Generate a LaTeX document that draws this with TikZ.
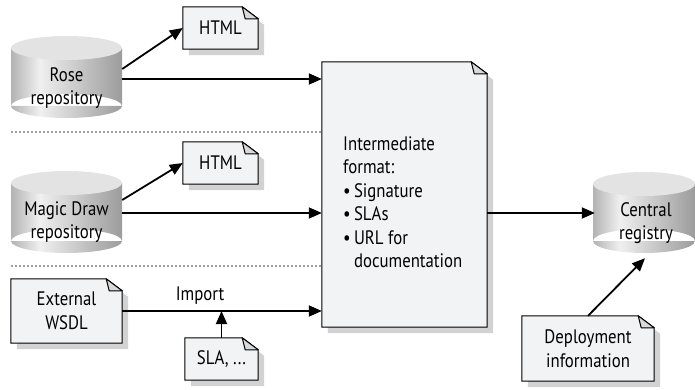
\documentclass[tikz,border=0pt]{standalone}
\usepackage{fontspec}
\setmainfont{PT Sans}[FakeStretch=0.86]
\usepackage{tikz}
\usetikzlibrary{arrows.meta, positioning, calc, backgrounds}

\definecolor{paper}{HTML}{F1F3F5}
\pgfdeclarehorizontalshading{drum}{100bp}{color(0bp)=(gray!60); color(25bp)=(gray!60); color(38bp)=(gray!12); color(75bp)=(gray!78); color(100bp)=(gray!78)}

% cylinder: left x, right x, top y, bottom y
\newcommand{\drum}[4]{%
  \pgfmathsetmacro\dcx{(#1+#2)/2}
  \pgfmathsetmacro\drx{(#2-#1)/2}
  \shade[shading=drum] (#1,#3+12) rectangle (#2,#4-12) (\dcx,#4-12) ellipse[x radius=\drx, y radius=12];
  \fill[gray!22] (\dcx,#3+12) ellipse[x radius=\drx, y radius=12];
}

% sheet of paper with folded corner and shadow, drawn round a node
\newcommand{\paper}[1]{%
  \fill[gray!35] ([shift={(6pt,-6pt)}]#1.south west) -- ([shift={(6pt,-6pt)}]#1.north west)
    -- ([shift={(-10pt,-6pt)}]#1.north east) -- ([shift={(6pt,-18pt)}]#1.north east)
    -- ([shift={(6pt,-6pt)}]#1.south east) -- cycle;
  \filldraw[fill=paper, line width=1pt] (#1.south west) -- (#1.north west)
    -- ([xshift=-16pt]#1.north east) -- ([yshift=-12pt]#1.north east) -- (#1.south east) -- cycle;
  \filldraw[fill=gray!30, line width=1pt, line join=round] ([xshift=-16pt]#1.north east)
    -- ([xshift=-13pt,yshift=-12pt]#1.north east) -- ([yshift=-12pt]#1.north east) -- cycle;
}

\tikzset{
  txt/.style={align=center, inner sep=0pt, font=\fontsize{19.5}{23.5}\selectfont},
  arr/.style={line width=1.8pt, -{Triangle[length=13pt,width=11pt]}},
  sep/.style={gray!75, line width=2pt, dash pattern=on 2pt off 2pt},
}

\begin{document}
\begin{tikzpicture}[x=1pt, y=-1pt]
    \useasboundingbox (0,0) rectangle (695,390);

    % Repositories
    \drum{11}{122}{36}{118}
    \drum{11}{122}{171}{253}
    \drum{593}{695}{172}{253}
    \node[txt, minimum width=111, minimum height=60] (rose) at (66.5,88) {Rose\\repository};
    \node[txt, minimum width=111, minimum height=62] (magic) at (66.5,222) {Magic Draw\\repository};
    \node[txt, minimum width=102, minimum height=60] (central) at (646,223) {Central\\registry};

    % Documents
    \node[txt, minimum width=75, minimum height=42] (html1) at (220.5,28) {HTML};
    \node[txt, minimum width=75, minimum height=42] (html2) at (220.5,163) {HTML};
    \node[txt, minimum width=111, minimum height=64] (wsdl) at (66.5,311) {External\\WSDL};
    \node[txt, minimum width=73, minimum height=42] (sla) at (221.5,359) {SLA, ...};
    \node[txt, minimum width=132, minimum height=65] (deploy) at (588,348.5) {Deployment\\information};
    \node[minimum width=165, minimum height=265, inner sep=0pt] (mid) at (404.5,194.5) {};
    \node[txt, align=left, anchor=west] (fmt) at (343,202) {Intermediate\\format:\\\textbullet\,Signature\\\textbullet\,SLAs\\\textbullet\,URL for\\\hphantom{\textbullet\,}documentation};

    \begin{pgfonlayer}{background}
        \paper{html1}
        \paper{html2}
        \paper{wsdl}
        \paper{sla}
        \paper{deploy}
        \paper{mid}
    \end{pgfonlayer}

    % Separators
    \coordinate (d1) at (11,132);
    \coordinate (d2) at (11,266);
    \draw[sep] (d1) -- (d1 -| mid.west);
    \draw[sep] (d2) -- (d2 -| mid.west);

    % Flows
    \draw[arr] ([yshift=19pt]rose.east) -- (html1.west);
    \draw[arr] ([yshift=9pt]rose.east) -- ([yshift=9pt]rose.east -| mid.west);
    \draw[arr] ([yshift=22pt]magic.east) -- (html2.west);
    \draw[arr] ([yshift=9pt]magic.east) -- ([yshift=9pt]magic.east -| mid.west);
    \draw[arr] (wsdl.east) -- node[txt, above=6pt, pos=0.39] (imp) {Import} (wsdl.east -| mid.west);
    \draw[arr] (sla.north) -- (sla.north |- wsdl.east);
    \coordinate (cw) at ([yshift=10pt]central.west);
    \draw[arr] (cw -| mid.east) -- (cw);
    \draw[arr] (deploy.north) -- ([shift={(-1pt,-5pt)}]central.south);
\end{tikzpicture}
\end{document}
